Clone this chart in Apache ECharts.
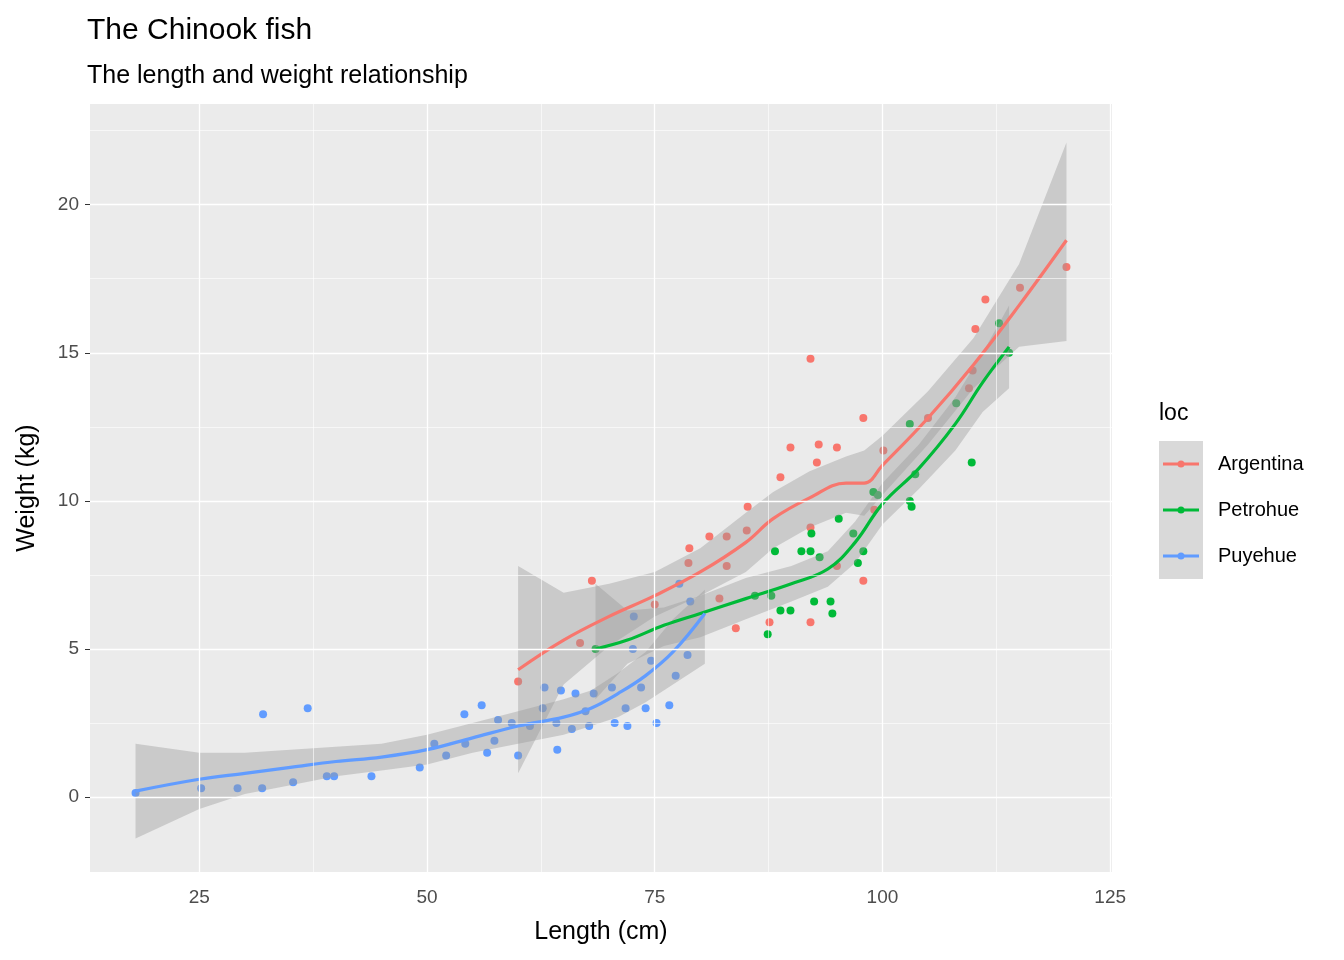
<!DOCTYPE html>
<html>
<head>
<meta charset="utf-8">
<script src="https://cdn.jsdelivr.net/npm/echarts@6/dist/echarts.min.js"></script>
<style>html,body{margin:0;padding:0;background:#fff}#chart{width:1344px;height:960px}</style>
</head>
<body>
<div id="chart"></div>
<script>
// observed points [length, weight]
var argentina = [[60.0,3.9],[66.8,5.2],[68.1,7.3],[75.0,6.5],[78.7,7.9],[78.8,8.4],[81.0,8.8],[82.1,6.7],[82.9,8.8],[82.9,7.8],[83.9,5.7],[85.1,9.0],[85.2,9.8],[87.6,5.9],[88.8,10.8],[89.9,11.8],[92.1,14.8],[92.1,9.1],[92.1,5.9],[92.8,11.3],[93.0,11.9],[95.0,11.8],[95.0,7.8],[97.9,12.8],[97.9,7.3],[99.1,9.7],[100.1,11.7],[105.0,12.8],[109.5,13.8],[109.9,14.4],[110.2,15.8],[111.3,16.8],[115.1,17.2],[120.2,17.9]];
var petrohue = [[68.5,5.0],[86.0,6.8],[87.4,5.5],[87.8,6.8],[88.2,8.3],[88.8,6.3],[89.9,6.3],[91.1,8.3],[92.1,8.3],[92.2,8.9],[92.5,6.6],[93.1,8.1],[94.3,6.6],[94.5,6.2],[95.2,9.4],[96.8,8.9],[97.3,7.9],[97.9,8.3],[99.0,10.3],[99.5,10.2],[103.0,12.6],[103.0,10.0],[103.2,9.8],[103.6,10.9],[108.1,13.3],[109.8,11.3],[112.8,16.0],[113.9,15.0]];
var puyehue = [[18.0,0.14],[25.2,0.3],[29.2,0.3],[31.9,0.3],[32.0,2.8],[35.3,0.5],[36.9,3.0],[39.0,0.7],[39.8,0.7],[43.9,0.7],[49.2,1.0],[50.8,1.8],[52.1,1.4],[54.1,2.8],[54.2,1.8],[56.0,3.1],[56.6,1.5],[57.4,1.9],[57.8,2.6],[59.3,2.5],[60.0,1.4],[61.3,2.4],[62.7,3.0],[62.9,3.7],[64.2,2.5],[64.3,1.6],[64.7,3.6],[65.9,2.3],[66.3,3.5],[67.4,2.9],[67.8,2.4],[68.3,3.5],[70.3,3.7],[70.6,2.5],[71.8,3.0],[72.0,2.4],[72.6,5.0],[72.7,6.1],[73.5,3.7],[74.0,3.0],[74.6,4.6],[75.2,2.5],[76.6,3.1],[77.3,4.1],[77.7,7.2],[78.6,4.8],[78.9,6.6]];

// smoothed fits [length, fit, lower, upper]
var fitArgentina = [[60,4.3,0.8,7.8],[65,5.3,3.8,6.9],[70,6.1,5.1,7.2],[75,6.8,6.1,7.6],[80,7.6,6.8,8.4],[85,8.6,7.6,9.6],[88,9.4,8.4,10.3],[92,10.1,9.1,11.0],[96,10.6,9.6,11.5],[98,10.6,9.5,11.7],[100,11.2,10.2,12.2],[105,12.8,11.9,13.7],[110,14.6,13.8,15.5],[115,16.6,15.2,18.0],[120.2,18.8,15.4,22.1]];
var fitPetrohue = [[68.5,5.0,3.3,7.2],[72,5.3,4.5,6.3],[76,5.8,5.1,6.4],[80,6.2,5.4,6.8],[85,6.7,6.0,7.4],[90,7.2,6.6,7.8],[94,7.7,7.1,8.3],[97,8.6,7.9,9.3],[100,9.9,9.2,10.6],[104,11.1,10.4,11.9],[108,12.6,11.7,13.5],[111,14.0,13.0,15.0],[113.9,15.2,13.8,16.6]];
var fitPuyehue = [[18,0.2,-1.4,1.8],[25,0.6,-0.4,1.5],[30,0.8,0.1,1.5],[35,1.0,0.4,1.6],[40,1.2,0.7,1.7],[45,1.35,0.9,1.8],[50,1.6,1.1,2.1],[55,2.0,1.5,2.5],[60,2.4,1.8,2.9],[65,2.7,2.1,3.3],[68,3.0,2.4,3.6],[71,3.5,2.7,4.2],[74,4.1,3.2,4.9],[77,4.9,3.8,6.0],[80.5,6.2,4.5,7.0]];

var xTicks = [25, 50, 75, 100, 125];
var yTicks = [0, 5, 10, 15, 20];
var xMinor = [37.5, 62.5, 87.5, 112.5];
var yMinor = [2.5, 7.5, 12.5, 17.5, 22.5];
var groups = ['Argentina', 'Petrohue', 'Puyehue'];
var colors = ['#F8766D', '#00BA38', '#619CFF'];

var pts = [argentina, petrohue, puyehue];
var fits = [fitArgentina, fitPetrohue, fitPuyehue];

function band(fit) {
  return {
    type: 'custom', z: 3, silent: true,
    data: fit,
    renderItem: function (params, api) {
      if (params.dataIndex !== 0) return;
      var up = fit.map(function (d) { return api.coord([d[0], d[3]]); });
      var lo = fit.map(function (d) { return api.coord([d[0], d[2]]); }).reverse();
      return { type: 'polygon', shape: { points: up.concat(lo) },
        style: { fill: 'rgba(153,153,153,0.4)' } };
    }
  };
}

function gridLines() {
  var d = [];
  xMinor.forEach(function (v) { d.push({ xAxis: v, lineStyle: { width: 0.6 } }); });
  yMinor.forEach(function (v) { d.push({ yAxis: v, lineStyle: { width: 0.6 } }); });
  xTicks.forEach(function (v) { d.push({ xAxis: v, lineStyle: { width: 1.3 } }); });
  yTicks.forEach(function (v) { d.push({ yAxis: v, lineStyle: { width: 1.3 } }); });
  return d;
}

var series = [{
  type: 'line', data: [], z: 0, silent: true,
  markLine: { silent: true, symbol: 'none', label: { show: false },
    lineStyle: { color: '#fff', type: 'solid' }, animation: false, data: gridLines() }
}];
groups.forEach(function (g, i) {
  series.push({ type: 'scatter', name: g, data: pts[i], symbolSize: 8, z: 2,
    itemStyle: { color: colors[i], opacity: 1 } });
});
groups.forEach(function (g, i) { series.push(band(fits[i])); });
groups.forEach(function (g, i) {
  series.push({ type: 'line', data: fits[i].map(function (d) { return [d[0], d[1]]; }),
    smooth: 0.4, showSymbol: false, z: 4, lineStyle: { color: colors[i], width: 3.2 } });
});

// legend keys
var graphic = [{ type: 'text', left: 1159, top: 402,
  style: { text: 'loc', font: '23px Arial, "Liberation Sans"', fill: '#000' } }];
groups.forEach(function (g, i) {
  var y = 441 + i * 46;
  graphic.push({ type: 'rect', shape: { x: 1159, y: y, width: 44, height: 46 }, style: { fill: '#D9D9D9' } });
  graphic.push({ type: 'line', shape: { x1: 1163, y1: y + 23, x2: 1199, y2: y + 23 }, style: { stroke: colors[i], lineWidth: 3 } });
  graphic.push({ type: 'circle', shape: { cx: 1181, cy: y + 23, r: 3.5 }, style: { fill: colors[i] } });
  graphic.push({ type: 'text', left: 1218, top: y + 13,
    style: { text: g, font: '20px Arial, "Liberation Sans"', fill: '#000' } });
});

var chart = echarts.init(document.getElementById('chart'));
chart.setOption({
  animation: false,
  backgroundColor: '#fff',
  title: {
    text: 'The Chinook fish', subtext: 'The length and weight relationship',
    left: 82, top: 11, itemGap: 18,
    textStyle: { fontFamily: 'Arial, "Liberation Sans"', fontWeight: 'normal', fontSize: 30, color: '#000' },
    subtextStyle: { fontFamily: 'Arial, "Liberation Sans"', fontSize: 25, color: '#000' }
  },
  grid: { left: 90, right: 232, top: 104, bottom: 88, backgroundColor: '#EBEBEB', show: true, borderWidth: 0 },
  xAxis: {
    type: 'value', min: 13, max: 125.2,
    name: 'Length (cm)', nameLocation: 'middle', nameGap: 48,
    nameTextStyle: { fontFamily: 'Arial, "Liberation Sans"', fontSize: 25, color: '#000' },
    axisLine: { show: false },
    axisTick: { show: true, length: 5, lineStyle: { color: '#333' }, customValues: xTicks },
    axisLabel: { customValues: xTicks, color: '#4D4D4D', fontSize: 19, margin: 16, fontFamily: 'Arial, "Liberation Sans"' },
    splitLine: { show: false }
  },
  yAxis: {
    type: 'value', min: -2.53, max: 23.4,
    name: 'Weight (kg)', nameLocation: 'middle', nameGap: 50,
    nameTextStyle: { fontFamily: 'Arial, "Liberation Sans"', fontSize: 25, color: '#000' },
    axisLine: { show: false },
    axisTick: { show: true, length: 5, lineStyle: { color: '#333' }, customValues: yTicks },
    axisLabel: { customValues: yTicks, color: '#4D4D4D', fontSize: 19, margin: 11, fontFamily: 'Arial, "Liberation Sans"' },
    splitLine: { show: false }
  },
  graphic: graphic,
  series: series
});
</script>
</body>
</html>
